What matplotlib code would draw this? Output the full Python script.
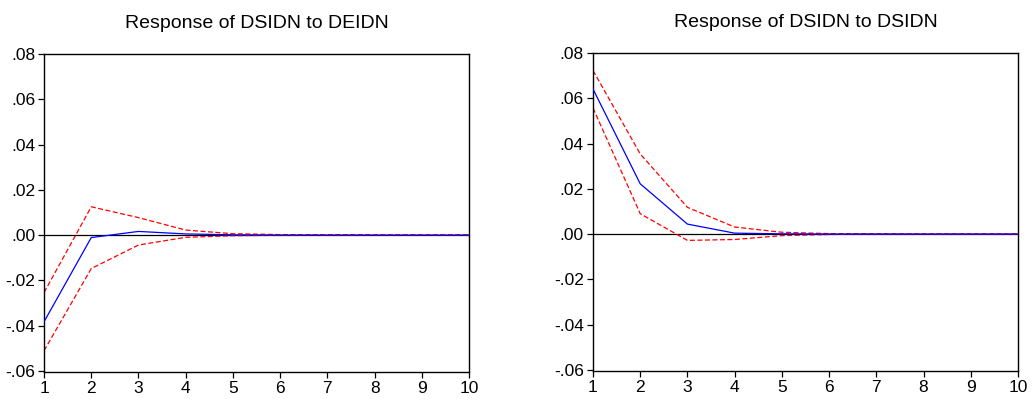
import matplotlib.pyplot as plt
from matplotlib.ticker import FuncFormatter

plt.rcParams["font.family"] = ["Liberation Sans", "DejaVu Sans"]

periods = [1, 2, 3, 4, 5, 6, 7, 8, 9, 10]

# Response of DSIDN to DEIDN
deidn_resp = [-0.0383, -0.0011, 0.0016, 0.0005, 0.0001, 0.0, 0.0, 0.0, 0.0, 0.0]
deidn_upper = [-0.0254, 0.0125, 0.0077, 0.0022, 0.0006, 0.0002, 0.0001, 0.0, 0.0, 0.0]
deidn_lower = [-0.0511, -0.0148, -0.0044, -0.0010, -0.0003, -0.0001, 0.0, 0.0, 0.0, 0.0]

# Response of DSIDN to DSIDN
dsidn_resp = [0.0641, 0.0222, 0.0044, 0.0004, 0.0001, 0.0, 0.0, 0.0, 0.0, 0.0]
dsidn_upper = [0.0723, 0.0354, 0.0118, 0.0031, 0.0008, 0.0002, 0.0001, 0.0, 0.0, 0.0]
dsidn_lower = [0.0557, 0.0090, -0.0028, -0.0024, -0.0007, -0.0002, 0.0, 0.0, 0.0, 0.0]

titles = ["Response of DSIDN to DEIDN", "Response of DSIDN to DSIDN"]
y_ticks = [-0.06, -0.04, -0.02, 0.0, 0.02, 0.04, 0.06, 0.08]


def fmt(v, pos):
    # eviews style: .08, -.02
    s = "%.2f" % v
    if s.startswith("-0"):
        return "-" + s[2:]
    if s.startswith("0"):
        return s[1:]
    return s


fig = plt.figure(figsize=(10.34, 3.99), dpi=100)
ax1 = fig.add_axes([0.0426, 0.0677, 0.411, 0.797])
ax2 = fig.add_axes([0.5735, 0.0702, 0.411, 0.797])

panels = [
    (ax1, deidn_resp, deidn_upper, deidn_lower),
    (ax2, dsidn_resp, dsidn_upper, dsidn_lower),
]

for i, (ax, resp, up, lo) in enumerate(panels):
    ax.axhline(0, color="black", lw=0.9, zorder=1)
    ax.plot(periods, up, color="red", lw=0.9, ls=(0, (4, 2)), zorder=2)
    ax.plot(periods, lo, color="red", lw=0.9, ls=(0, (4, 2)), zorder=2)
    ax.plot(periods, resp, color="blue", lw=0.9, zorder=3)
    ax.set_xlim(1, 10)
    ax.set_ylim(-0.0605, 0.08)
    ax.set_xticks(periods)
    ax.set_yticks(y_ticks)
    ax.yaxis.set_major_formatter(FuncFormatter(fmt))
    ax.tick_params(direction="out", length=4.5, width=0.9, labelsize=12.5, pad=2,
                   top=False, right=False)
    for sp in ax.spines.values():
        sp.set_linewidth(1.0)
        sp.set_color("black")
    ax.set_title(titles[i], fontsize=14, pad=19)

fig.savefig("out.png", dpi=100)
